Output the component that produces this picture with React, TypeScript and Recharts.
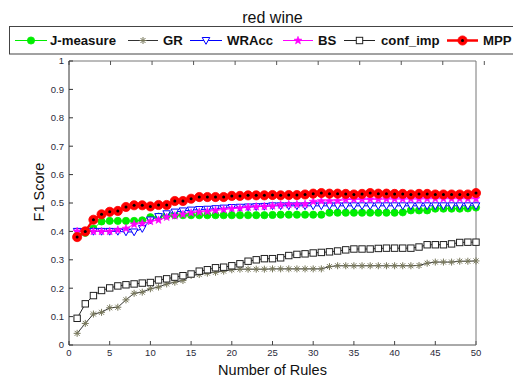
import React from 'react';
import { ComposedChart, Line, XAxis, YAxis } from 'recharts';

const rules = Array.from({ length: 50 }, (_, i) => i + 1);

const jMeasure = [0.385, 0.395, 0.41, 0.435, 0.437, 0.437, 0.437, 0.437, 0.439, 0.45,
  0.452, 0.456, 0.457, 0.457, 0.457, 0.457, 0.457, 0.457, 0.457, 0.457,
  0.457, 0.457, 0.457, 0.457, 0.458, 0.459, 0.459, 0.459, 0.459, 0.459,
  0.459, 0.466, 0.466, 0.466, 0.466, 0.466, 0.466, 0.466, 0.466, 0.466,
  0.467, 0.474, 0.474, 0.474, 0.48, 0.48, 0.48, 0.48, 0.481, 0.484];
const gr = [0.041, 0.076, 0.109, 0.115, 0.131, 0.133, 0.159, 0.182, 0.186, 0.198,
  0.204, 0.215, 0.221, 0.227, 0.245, 0.248, 0.253, 0.256, 0.26, 0.265,
  0.267, 0.267, 0.267, 0.267, 0.268, 0.268, 0.268, 0.268, 0.268, 0.268,
  0.268, 0.276, 0.279, 0.279, 0.279, 0.279, 0.279, 0.279, 0.279, 0.279,
  0.279, 0.279, 0.28, 0.288, 0.292, 0.292, 0.292, 0.295, 0.295, 0.296];
const wracc = [0.4, 0.4, 0.4, 0.4, 0.4, 0.4, 0.398, 0.398, 0.41, 0.44,
  0.452, 0.462, 0.468, 0.472, 0.475, 0.477, 0.478, 0.48, 0.482, 0.484,
  0.485, 0.486, 0.487, 0.488, 0.49, 0.49, 0.49, 0.49, 0.49, 0.49,
  0.49, 0.49, 0.49, 0.49, 0.49, 0.49, 0.49, 0.49, 0.49, 0.49,
  0.49, 0.49, 0.49, 0.49, 0.49, 0.49, 0.49, 0.49, 0.49, 0.49];
const bs = [0.4, 0.4, 0.4, 0.4, 0.4, 0.405, 0.41, 0.425, 0.428, 0.435,
  0.44, 0.45, 0.455, 0.46, 0.465, 0.468, 0.47, 0.474, 0.477, 0.48,
  0.482, 0.485, 0.487, 0.488, 0.49, 0.493, 0.495, 0.495, 0.496, 0.505,
  0.507, 0.507, 0.508, 0.512, 0.513, 0.513, 0.513, 0.513, 0.514, 0.514,
  0.514, 0.514, 0.514, 0.515, 0.515, 0.515, 0.515, 0.515, 0.515, 0.515];
const confImp = [0.094, 0.145, 0.174, 0.192, 0.201, 0.208, 0.212, 0.215, 0.218, 0.22,
  0.229, 0.233, 0.239, 0.244, 0.25, 0.26, 0.265, 0.272, 0.274, 0.279,
  0.286, 0.295, 0.3, 0.304, 0.304, 0.307, 0.315, 0.319, 0.321, 0.324,
  0.326, 0.328, 0.331, 0.335, 0.338, 0.338, 0.338, 0.34, 0.341, 0.341,
  0.341, 0.341, 0.345, 0.353, 0.353, 0.353, 0.356, 0.361, 0.362, 0.362];
const mpp = [0.38, 0.4, 0.441, 0.46, 0.469, 0.472, 0.486, 0.492, 0.492, 0.488,
  0.493, 0.493, 0.507, 0.507, 0.515, 0.521, 0.521, 0.521, 0.521, 0.525,
  0.525, 0.527, 0.527, 0.527, 0.528, 0.527, 0.528, 0.528, 0.53, 0.533,
  0.535, 0.533, 0.533, 0.532, 0.53, 0.532, 0.535, 0.533, 0.533, 0.532,
  0.532, 0.53, 0.532, 0.532, 0.53, 0.53, 0.53, 0.53, 0.53, 0.535];

const xTicks = [0, 5, 10, 15, 20, 25, 30, 35, 40, 45, 50];
const yTicks = [0, 0.1, 0.2, 0.3, 0.4, 0.5, 0.6, 0.7, 0.8, 0.9, 1];

const seriesNames = ['J-measure', 'GR', 'WRAcc', 'BS', 'conf_imp', 'MPP'];

const data = rules.map((r, i) => ({
  r,
  j: jMeasure[i],
  gr: gr[i],
  wr: wracc[i],
  bs: bs[i],
  ci: confImp[i],
  mpp: mpp[i],
}));

const GREEN = '#00ee00';
const GR_MARK = '#77775a';
const BLUE = '#0000ff';
const MAG = '#ff00ff';
const RED = '#ff0000';

const pentagram = (cx: number, cy: number, R: number) => {
  const pts: string[] = [];
  for (let k = 0; k < 10; k++) {
    const r = k % 2 === 0 ? R : R * 0.42;
    const a = -Math.PI / 2 + (k * Math.PI) / 5;
    pts.push(`${(cx + r * Math.cos(a)).toFixed(2)},${(cy + r * Math.sin(a)).toFixed(2)}`);
  }
  return pts.join(' ');
};

const MarkCircle = ({ cx, cy }: any) => (
  <circle cx={cx} cy={cy} r={3.6} fill={GREEN} stroke={GREEN} strokeWidth={0.8} />
);
const MarkAster = ({ cx, cy }: any) => {
  const s = 3.5, d = 2.5;
  return (
    <g stroke={GR_MARK} strokeWidth={1}>
      <line x1={cx - s} y1={cy} x2={cx + s} y2={cy} />
      <line x1={cx} y1={cy - s} x2={cx} y2={cy + s} />
      <line x1={cx - d} y1={cy - d} x2={cx + d} y2={cy + d} />
      <line x1={cx - d} y1={cy + d} x2={cx + d} y2={cy - d} />
    </g>
  );
};
const MarkTri = ({ cx, cy }: any) => (
  <polygon
    points={`${cx - 3.8},${cy - 3} ${cx + 3.8},${cy - 3} ${cx},${cy + 3.8}`}
    fill="#ffffff"
    stroke={BLUE}
    strokeWidth={1}
  />
);
const MarkStar = ({ cx, cy }: any) => (
  <polygon points={pentagram(cx, cy, 4.2)} fill={MAG} stroke={MAG} strokeWidth={0.6} />
);
const MarkSquare = ({ cx, cy }: any) => (
  <rect x={cx - 3.2} y={cy - 3.2} width={6.4} height={6.4} fill="#ffffff" stroke="#222" strokeWidth={1} />
);
const MarkMpp = ({ cx, cy }: any) => (
  <g>
    <circle cx={cx} cy={cy} r={4.6} fill={RED} stroke={RED} strokeWidth={0.8} />
    <circle cx={cx} cy={cy} r={1.5} fill="#000" />
  </g>
);

const mk = (C: any, prefix: string) => (p: any) =>
  p.cx == null || p.cy == null ? <g key={`${prefix}-${p.index}`} /> : <C key={`${prefix}-${p.index}`} cx={p.cx} cy={p.cy} />;

const tickStyle = { fontSize: 9.5, fill: '#2a2a3a', fontFamily: 'Liberation Sans, Arial, sans-serif' };

const legendItems = [
  { name: seriesNames[0], x0: 15, x1: 47, tx: 50, line: GREEN, lw: 1, M: MarkCircle },
  { name: seriesNames[1], x0: 128, x1: 158, tx: 163, line: '#333', lw: 1, M: MarkAster },
  { name: seriesNames[2], x0: 190, x1: 222, tx: 227, line: BLUE, lw: 1, M: MarkTri },
  { name: seriesNames[3], x0: 283, x1: 313, tx: 318, line: MAG, lw: 1, M: MarkStar },
  { name: seriesNames[4], x0: 344, x1: 375, tx: 381, line: '#222', lw: 1, M: MarkSquare },
  { name: seriesNames[5], x0: 447, x1: 478, tx: 483, line: RED, lw: 2.5, M: MarkMpp },
];

export default function App() {
  return (
    <div style={{ position: 'absolute', left: 0, top: 0, width: 513, height: 379, background: '#fff', overflow: 'hidden' }}>
      <ComposedChart width={513} height={379} data={data} margin={{ top: 0, right: 0, bottom: 0, left: 0 }}>
        <XAxis
          dataKey="r"
          type="number"
          domain={[0, 50]}
          ticks={xTicks}
          interval={0}
          height={34}
          tickSize={-4}
          tickMargin={8}
          tick={tickStyle}
          axisLine={{ stroke: '#555' }}
          tickLine={{ stroke: '#444' }}
        />
        <XAxis
          xAxisId="top"
          orientation="top"
          type="number"
          domain={[0, 50]}
          ticks={xTicks}
          interval={0}
          height={61}
          tickSize={-4}
          tickFormatter={() => ''}
          axisLine={{ stroke: '#777' }}
          tickLine={{ stroke: '#555' }}
        />
        <YAxis
          type="number"
          domain={[0, 1]}
          ticks={yTicks}
          interval={0}
          width={69}
          tickSize={-4}
          tickMargin={9}
          tick={tickStyle}
          axisLine={{ stroke: '#333' }}
          tickLine={{ stroke: '#333' }}
        />
        <YAxis
          yAxisId="right"
          orientation="right"
          type="number"
          domain={[0, 1]}
          ticks={yTicks}
          interval={0}
          width={37}
          tickSize={-4}
          tickFormatter={() => ''}
          axisLine={{ stroke: '#777' }}
          tickLine={{ stroke: '#555' }}
        />
        <Line dataKey="j" name={seriesNames[0]} stroke={GREEN} strokeWidth={1} dot={mk(MarkCircle, 'j')} isAnimationActive={false} />
        <Line dataKey="gr" name={seriesNames[1]} stroke="#333" strokeWidth={1} dot={mk(MarkAster, 'g')} isAnimationActive={false} />
        <Line dataKey="wr" name={seriesNames[2]} stroke={BLUE} strokeWidth={1} dot={mk(MarkTri, 'w')} isAnimationActive={false} />
        <Line dataKey="bs" name={seriesNames[3]} stroke={MAG} strokeWidth={1} dot={mk(MarkStar, 'b')} isAnimationActive={false} />
        <Line dataKey="ci" name={seriesNames[4]} stroke="#222" strokeWidth={1} dot={mk(MarkSquare, 'c')} isAnimationActive={false} />
        <Line dataKey="mpp" name={seriesNames[5]} stroke={RED} strokeWidth={2.5} dot={mk(MarkMpp, 'm')} isAnimationActive={false} />
      </ComposedChart>
      <svg
        width={513}
        height={379}
        style={{ position: 'absolute', left: 0, top: 0, pointerEvents: 'none' }}
        fontFamily="Liberation Sans, Arial, sans-serif"
      >
        <text x={272.5} y={23} textAnchor="middle" fontSize={16} fill="#111">red wine</text>
        <rect x={9.5} y={26.5} width={520} height={27.5} fill="#fff" stroke="#444" strokeWidth={1} />
        {legendItems.map((it) => (
          <g key={it.name}>
            <line x1={it.x0} y1={40.5} x2={it.x1} y2={40.5} stroke={it.line} strokeWidth={it.lw} />
            <it.M cx={(it.x0 + it.x1) / 2} cy={40.5} />
            <text x={it.tx} y={45} fontSize={13.2} fontWeight="bold" fill="#111">{it.name}</text>
          </g>
        ))}
        <text transform="translate(44,192) rotate(-90)" textAnchor="middle" fontSize={14.5} fill="#111">F1 Score</text>
        <text x={272.5} y={375} textAnchor="middle" fontSize={14.5} fill="#111">Number of Rules</text>
      </svg>
    </div>
  );
}
